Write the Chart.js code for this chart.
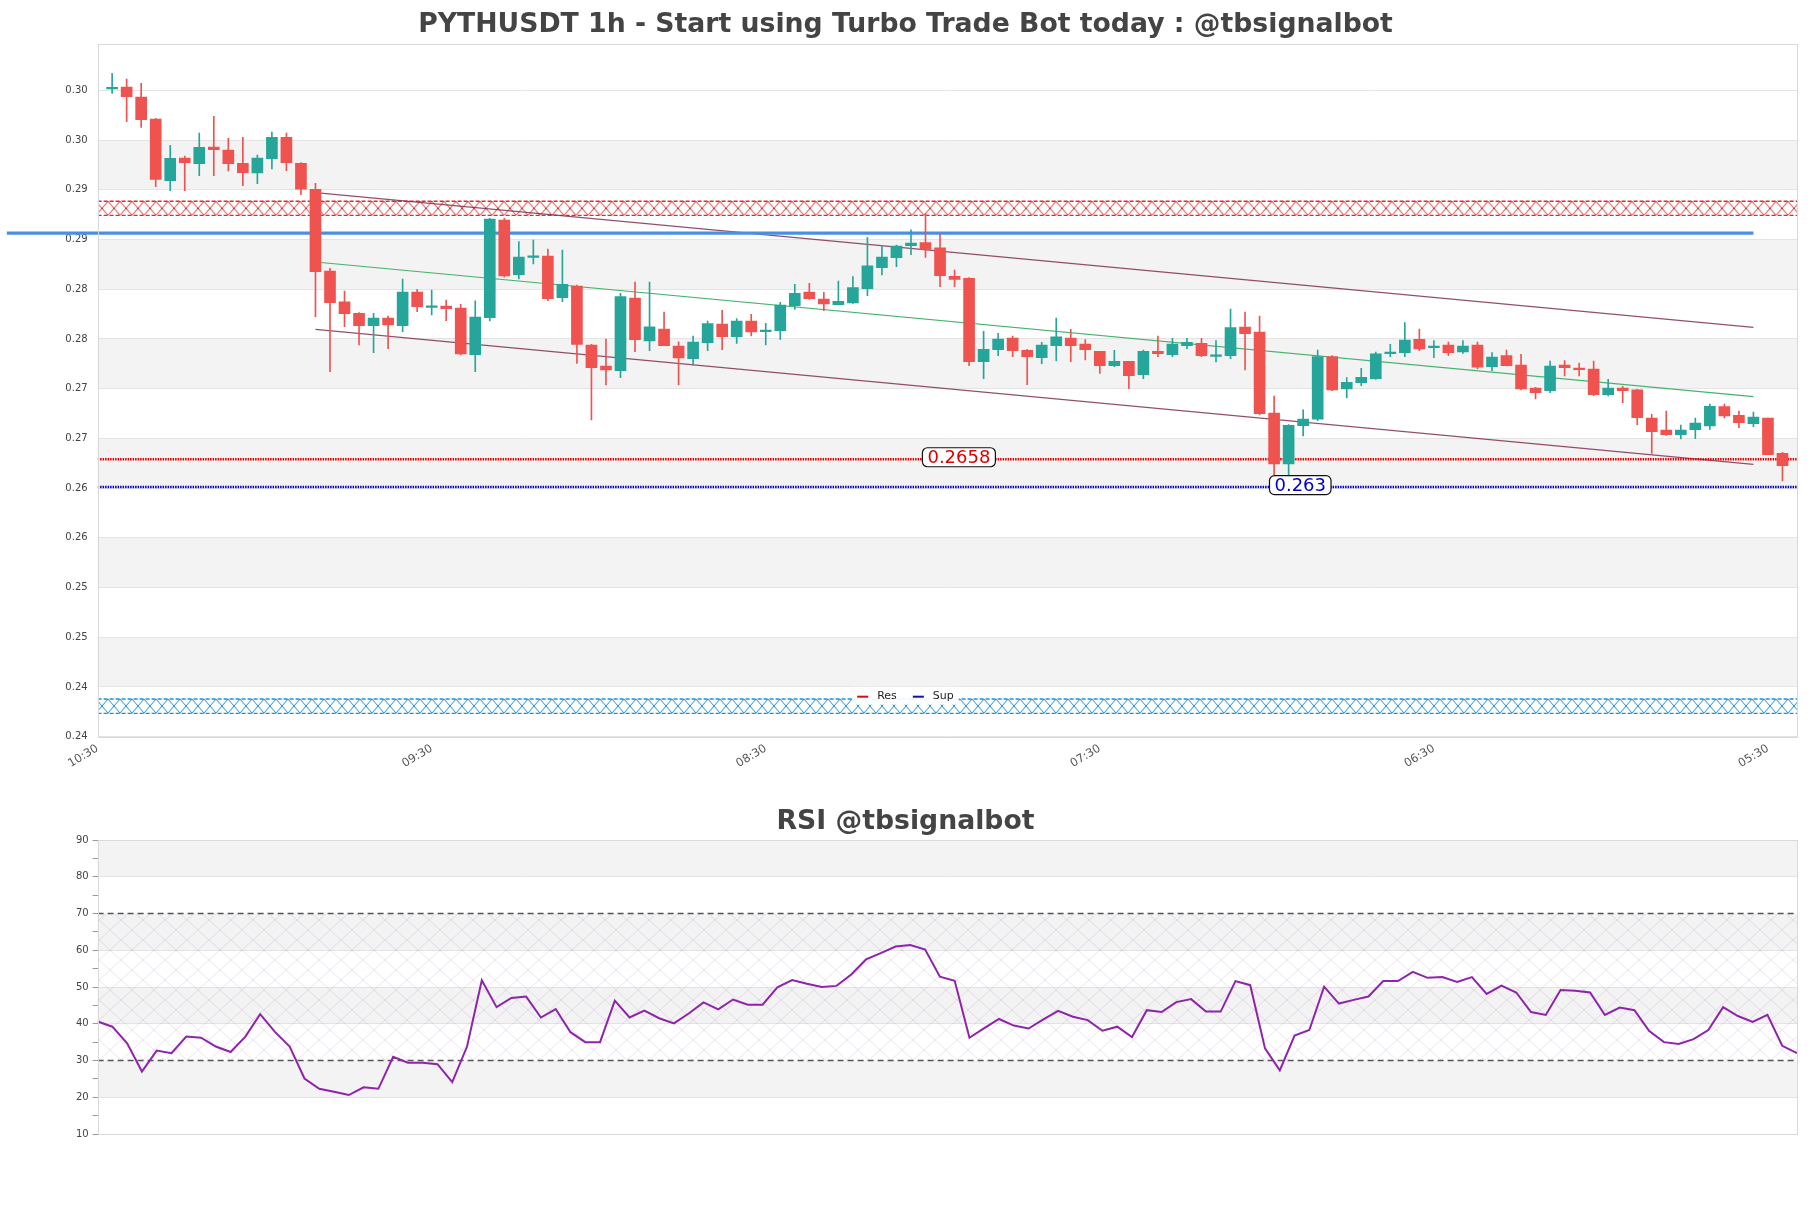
<!DOCTYPE html>
<html lang="en">
<head>
<meta charset="utf-8">
<title>PYTHUSDT 1h</title>
<script src="https://cdn.jsdelivr.net/npm/chart.js@4.4.1/dist/chart.umd.min.js"></script>
<style>
  html, body { margin: 0; padding: 0; background: #fff; }
  #wrap { position: relative; width: 1811px; height: 1208px; }
  .box { position: absolute; left: 0; width: 1811px; }
  #boxPrecio { top: 0; height: 790px; }
  #boxRsi { top: 790px; height: 418px; }
</style>
</head>
<body>
<div id="wrap">
  <div class="box" id="boxPrecio"><canvas id="chartPrecio"></canvas></div>
  <div class="box" id="boxRsi"><canvas id="chartRsi"></canvas></div>
</div>
<script>
// ==============================
// Datos
// ==============================
const timeLabels = ['10:30', '09:30', '08:30', '07:30', '06:30', '05:30'];
const timeTickPos = [-1, 22, 45, 68, 91, 114];

const opens = [0.30304, 0.30324, 0.30223, 0.30002, 0.29382, 0.29610, 0.29553, 0.29720, 0.29690, 0.29556,
  0.29459, 0.29603, 0.29817, 0.29556, 0.29295, 0.28473, 0.28162, 0.28048, 0.27924, 0.28001,
  0.27924, 0.28262, 0.28108, 0.28121, 0.28101, 0.27632, 0.28004, 0.28986, 0.28437, 0.28611,
  0.28624, 0.28205, 0.28322, 0.27729, 0.27518, 0.27471, 0.28202, 0.27769, 0.27890, 0.27719,
  0.27592, 0.27753, 0.27940, 0.27813, 0.27970, 0.27863, 0.27873, 0.28125, 0.28262, 0.28192,
  0.28135, 0.28151, 0.28296, 0.28507, 0.28607, 0.28728, 0.28758, 0.28705, 0.28420, 0.28400,
  0.27562, 0.27682, 0.27799, 0.27675, 0.27602, 0.27722, 0.27799, 0.27739, 0.27665, 0.27521,
  0.27565, 0.27431, 0.27665, 0.27632, 0.27722, 0.27746, 0.27615, 0.27622, 0.27910, 0.27860,
  0.27045, 0.26533, 0.26918, 0.26982, 0.27612, 0.27287, 0.27350, 0.27391, 0.27642, 0.27652,
  0.27786, 0.27702, 0.27729, 0.27659, 0.27729, 0.27511, 0.27622, 0.27528, 0.27297, 0.27270,
  0.27528, 0.27498, 0.27488, 0.27230, 0.27297, 0.27277, 0.26995, 0.26874, 0.26827, 0.26878,
  0.26915, 0.27109, 0.27022, 0.26938, 0.26995, 0.26640];
const highs = [0.30461, 0.30404, 0.30361, 0.30009, 0.29737, 0.29630, 0.29861, 0.30029, 0.29807, 0.29817,
  0.29640, 0.29871, 0.29861, 0.29563, 0.29355, 0.28500, 0.28272, 0.28054, 0.28048, 0.28021,
  0.28393, 0.28289, 0.28282, 0.28182, 0.28138, 0.28172, 0.29003, 0.29003, 0.28768, 0.28785,
  0.28694, 0.28684, 0.28332, 0.27736, 0.27789, 0.28249, 0.28363, 0.28363, 0.28061, 0.27762,
  0.27820, 0.27970, 0.28078, 0.27994, 0.28037, 0.27947, 0.28158, 0.28339, 0.28349, 0.28259,
  0.28373, 0.28416, 0.28812, 0.28728, 0.28735, 0.28886, 0.29053, 0.28845, 0.28483, 0.28406,
  0.27867, 0.27846, 0.27820, 0.27685, 0.27756, 0.28001, 0.27887, 0.27783, 0.27665, 0.27675,
  0.27565, 0.27679, 0.27820, 0.27796, 0.27796, 0.27796, 0.27773, 0.28091, 0.28061, 0.28021,
  0.27216, 0.26928, 0.27076, 0.27679, 0.27622, 0.27401, 0.27494, 0.27659, 0.27736, 0.27954,
  0.27890, 0.27773, 0.27759, 0.27773, 0.27759, 0.27652, 0.27679, 0.27635, 0.27303, 0.27568,
  0.27572, 0.27548, 0.27568, 0.27384, 0.27313, 0.27283, 0.27032, 0.27065, 0.26925, 0.26995,
  0.27136, 0.27136, 0.27065, 0.27055, 0.26995, 0.26650];
const lows = [0.30260, 0.29975, 0.29918, 0.29321, 0.29281, 0.29281, 0.29432, 0.29432, 0.29479, 0.29331,
  0.29352, 0.29499, 0.29482, 0.29241, 0.28014, 0.27461, 0.27913, 0.27729, 0.27652, 0.27692,
  0.27863, 0.28064, 0.28031, 0.27974, 0.27629, 0.27461, 0.27971, 0.28410, 0.28393, 0.28544,
  0.28175, 0.28165, 0.27545, 0.26975, 0.27327, 0.27401, 0.27662, 0.27672, 0.27722, 0.27327,
  0.27525, 0.27672, 0.27682, 0.27746, 0.27820, 0.27729, 0.27786, 0.28088, 0.28188, 0.28074,
  0.28131, 0.28148, 0.28225, 0.28433, 0.28517, 0.28638, 0.28611, 0.28316, 0.28316, 0.27521,
  0.27391, 0.27622, 0.27612, 0.27330, 0.27541, 0.27572, 0.27562, 0.27578, 0.27444, 0.27511,
  0.27290, 0.27391, 0.27612, 0.27612, 0.27692, 0.27612, 0.27558, 0.27592, 0.27478, 0.27025,
  0.26422, 0.26412, 0.26814, 0.26968, 0.27270, 0.27196, 0.27320, 0.27384, 0.27612, 0.27612,
  0.27672, 0.27602, 0.27622, 0.27645, 0.27488, 0.27471, 0.27518, 0.27277, 0.27186, 0.27250,
  0.27417, 0.27417, 0.27220, 0.27216, 0.27149, 0.26928, 0.26640, 0.26821, 0.26784, 0.26787,
  0.26881, 0.26995, 0.26898, 0.26908, 0.26626, 0.26361];
const closes = [0.30317, 0.30226, 0.29995, 0.29395, 0.29606, 0.29563, 0.29717, 0.29693, 0.29553, 0.29462,
  0.29610, 0.29817, 0.29563, 0.29295, 0.28467, 0.28155, 0.28044, 0.27924, 0.28001, 0.27930,
  0.28262, 0.28115, 0.28121, 0.28095, 0.27639, 0.28011, 0.28996, 0.28423, 0.28614, 0.28624,
  0.28195, 0.28339, 0.27736, 0.27501, 0.27478, 0.28215, 0.27783, 0.27913, 0.27722, 0.27598,
  0.27759, 0.27944, 0.27813, 0.27970, 0.27860, 0.27877, 0.28131, 0.28249, 0.28195, 0.28141,
  0.28168, 0.28306, 0.28524, 0.28614, 0.28725, 0.28755, 0.28691, 0.28426, 0.28389, 0.27562,
  0.27685, 0.27789, 0.27672, 0.27612, 0.27729, 0.27810, 0.27722, 0.27682, 0.27521, 0.27565,
  0.27421, 0.27665, 0.27642, 0.27739, 0.27756, 0.27622, 0.27628, 0.27903, 0.27843, 0.27039,
  0.26533, 0.26921, 0.26985, 0.27612, 0.27277, 0.27354, 0.27404, 0.27639, 0.27652, 0.27779,
  0.27689, 0.27716, 0.27652, 0.27719, 0.27505, 0.27608, 0.27521, 0.27287, 0.27250, 0.27518,
  0.27501, 0.27481, 0.27230, 0.27297, 0.27270, 0.26998, 0.26858, 0.26827, 0.26874, 0.26945,
  0.27112, 0.27015, 0.26948, 0.27005, 0.26626, 0.26516];

const priceTicks = [0.2379, 0.2429, 0.2479, 0.2529, 0.2579, 0.2629, 0.2679, 0.2729, 0.2779, 0.2829, 0.2879, 0.2929, 0.2979, 0.3029];
const priceTickLabels = ['0.24', '0.24', '0.25', '0.25', '0.26', '0.26', '0.27', '0.27', '0.28', '0.28', '0.29', '0.29', '0.30', '0.30'];

const resLevel = 0.2658;
const supLevel = 0.263;
const resZone = [0.29033, 0.29174];
const supZone = [0.24025, 0.24169];
const blueLevel = 0.28855;
const blueLineX = [-7.25, 113];
const channelX = [14, 113];
const channelUpper = [0.29261, 0.27907];
const channelMid = [0.28564, 0.27209];
const channelLower = [0.27887, 0.26529];

const rsiValues = [40.6, 39.2, 34.7, 27.0, 32.7, 32.0, 36.5, 36.2, 33.8, 32.3,
  36.5, 42.6, 37.8, 33.8, 25.1, 22.3, 21.5, 20.6, 22.7, 22.3,
  31.0, 29.4, 29.4, 29.0, 24.1, 33.8, 51.8, 44.5, 47.0, 47.4,
  41.7, 44.0, 37.7, 35.0, 35.0, 46.3, 41.7, 43.6, 41.5, 40.1,
  42.8, 45.8, 43.9, 46.6, 45.2, 45.2, 49.9, 51.9, 50.9, 50.0,
  50.3, 53.4, 57.5, 59.2, 61.0, 61.4, 60.2, 52.8, 51.7, 36.2,
  38.8, 41.3, 39.5, 38.7, 41.2, 43.5, 41.9, 41.0, 38.1, 39.2,
  36.4, 43.7, 43.2, 45.9, 46.7, 43.3, 43.3, 51.6, 50.5, 33.3,
  27.3, 36.8, 38.3, 50.1, 45.5, 46.5, 47.4, 51.6, 51.6, 54.1,
  52.5, 52.7, 51.4, 52.7, 48.1, 50.4, 48.5, 43.2, 42.4, 49.2,
  49.0, 48.5, 42.4, 44.4, 43.7, 38.0, 35.0, 34.5, 35.8, 38.3,
  44.5, 42.1, 40.5, 42.4, 34.0, 32.0];
const rsiBandTicks = [10, 20, 30, 40, 50, 60, 70, 80, 90];
const rsiUpper = 70;
const rsiLower = 30;

// ==============================
// Utilidades
// ==============================
const UP = '#26a69a';
const DOWN = '#ef5350';

Chart.defaults.font.family = "'DejaVu Sans', sans-serif";
Chart.defaults.color = '#444';

function makeCrossPattern(color, w, h, lw) {
  const c = document.createElement('canvas');
  c.width = w; c.height = h;
  const g = c.getContext('2d');
  g.strokeStyle = color;
  g.lineWidth = lw;
  g.beginPath();
  g.moveTo(0, 0); g.lineTo(w, h);
  g.moveTo(w, 0); g.lineTo(0, h);
  g.stroke();
  return g.createPattern(c, 'repeat');
}

// alinea el patron con el borde superior de la zona
function zoneFill(pattern, topValue) {
  return (ctx) => {
    const y = ctx.chart.scales && ctx.chart.scales.y;
    if (y && typeof y.getPixelForValue === 'function') {
      const py = y.getPixelForValue(topValue);
      if (isFinite(py)) pattern.setTransform(new DOMMatrix().translate(0, py));
    }
    return pattern;
  };
}

function hLine(y0, x0, x1) { return [{ x: x0, y: y0 }, { x: x1, y: y0 }]; }

// ==============================
// Plugins
// ==============================
const bandas = {
  id: 'bandas',
  beforeDraw(chart, args, opts) {
    const { ctx, chartArea: a, scales: { y } } = chart;
    const v = opts.values || [];
    ctx.save();
    ctx.fillStyle = opts.color || '#f3f3f3';
    for (let k = 1; k + 1 < v.length; k += 2) {
      const y1 = y.getPixelForValue(v[k + 1]);
      const y2 = y.getPixelForValue(v[k]);
      ctx.fillRect(a.left, y1, a.right - a.left, y2 - y1);
    }
    ctx.restore();
  }
};

const marco = {
  id: 'marco',
  afterDraw(chart) {
    const { ctx, chartArea: a } = chart;
    ctx.save();
    ctx.strokeStyle = '#d9d9d9';
    ctx.lineWidth = 1;
    ctx.strokeRect(Math.round(a.left) + 0.5, Math.round(a.top) + 0.5, Math.round(a.right - a.left), Math.round(a.bottom - a.top));
    ctx.restore();
  }
};

const etiquetasNivel = {
  id: 'etiquetasNivel',
  afterDatasetsDraw(chart, args, opts) {
    const { ctx, scales: { x, y } } = chart;
    ctx.save();
    ctx.font = "18px 'DejaVu Sans'";
    ctx.textAlign = 'center';
    ctx.textBaseline = 'middle';
    for (const it of opts.items || []) {
      const cx = x.getPixelForValue(it.at);
      const cy = y.getPixelForValue(it.value) - 2;
      const w = ctx.measureText(it.text).width + 10;
      const h = 19;
      ctx.beginPath();
      ctx.roundRect(cx - w / 2, cy - h / 2, w, h, 5);
      ctx.fillStyle = '#fff';
      ctx.fill();
      ctx.lineWidth = 1.2;
      ctx.strokeStyle = '#111';
      ctx.stroke();
      ctx.fillStyle = it.color;
      ctx.fillText(it.text, cx, cy + 1);
    }
    ctx.restore();
  }
};

const leyendaInterna = {
  id: 'leyendaInterna',
  afterDatasetsDraw(chart, args, opts) {
    const { ctx, chartArea: a } = chart;
    const items = opts.items || [];
    ctx.save();
    ctx.font = "11px 'DejaVu Sans'";
    const sw = 11, gap = 9, sep = 16, pad = 5, h = 18;
    let total = pad * 2;
    items.forEach((it, i) => { total += sw + gap + ctx.measureText(it.text).width + (i ? sep : 0); });
    const left = chart.width / 2 - total / 2;
    const top = a.bottom - 50;
    ctx.fillStyle = 'rgba(255,255,255,0.92)';
    ctx.fillRect(left, top, total, h);
    let cx = left + pad;
    const cy = top + h / 2 + 1;
    ctx.textBaseline = 'middle';
    items.forEach((it, i) => {
      if (i) cx += sep;
      ctx.fillStyle = it.color;
      ctx.fillRect(cx, cy - 1, sw, 2);
      cx += sw + gap;
      ctx.fillStyle = '#222';
      ctx.fillText(it.text, cx, cy - 1);
      cx += ctx.measureText(it.text).width;
    });
    ctx.restore();
  }
};

// ==============================
// Grafica de precio
// ==============================
const idx = opens.map((_, i) => i);
const candleColors = idx.map(i => closes[i] >= opens[i] ? UP : DOWN);
const bodyData = idx.map(i => ({ x: i, y: [opens[i], closes[i]] }));
const wickData = idx.map(i => ({ x: i, y: [lows[i], highs[i]] }));
const xMin = -1, xMax = idx.length;

const resPattern = makeCrossPattern('#e02828', 12, 14, 1);
const supPattern = makeCrossPattern('#1e8fd8', 12, 14, 1);
const rsiPattern = makeCrossPattern('rgba(165,120,185,0.3)', 22, 20, 0.7);

const lineBase = { type: 'line', pointRadius: 0, tension: 0, fill: false };

new Chart(document.getElementById('chartPrecio'), {
  type: 'bar',
  data: {
    datasets: [
      { label: 'body', data: bodyData, backgroundColor: candleColors, barThickness: 11, grouped: false, minBarLength: 1.5, borderWidth: 0, order: 0 },
      { label: 'wick', data: wickData, backgroundColor: candleColors, barThickness: 1, grouped: false, borderWidth: 0, order: 1 },
      { ...lineBase, label: 'Res', data: hLine(resLevel, xMin, xMax), borderColor: '#e00000', borderWidth: 2.5, borderDash: [1.5, 1], order: 3 },
      { ...lineBase, label: 'Sup', data: hLine(supLevel, xMin, xMax), borderColor: '#0000c8', borderWidth: 2.5, borderDash: [1.5, 1], order: 3 },
      { ...lineBase, label: 'nivel', data: hLine(blueLevel, blueLineX[0], blueLineX[1]), borderColor: '#4a90e2', borderWidth: 3.2, clip: false, order: 2 },
      { ...lineBase, label: 'canal sup', data: channelX.map((x, i) => ({ x, y: channelUpper[i] })), borderColor: 'rgba(128,48,80,0.85)', borderWidth: 1.2, order: 4 },
      { ...lineBase, label: 'canal med', data: channelX.map((x, i) => ({ x, y: channelMid[i] })), borderColor: '#45b36b', borderWidth: 1.2, order: 4 },
      { ...lineBase, label: 'canal inf', data: channelX.map((x, i) => ({ x, y: channelLower[i] })), borderColor: 'rgba(128,48,80,0.85)', borderWidth: 1.2, order: 4 },
      { ...lineBase, label: 'zona res', data: hLine(resZone[1], xMin, xMax), borderColor: '#e02828', borderWidth: 1.4, borderDash: [4, 2], fill: '+1', backgroundColor: zoneFill(resPattern, resZone[1]), order: 6 },
      { ...lineBase, label: 'zona res b', data: hLine(resZone[0], xMin, xMax), borderColor: '#e02828', borderWidth: 1.4, borderDash: [4, 2], order: 6 },
      { ...lineBase, label: 'zona sup', data: hLine(supZone[1], xMin, xMax), borderColor: '#1e8fd8', borderWidth: 1.4, borderDash: [4, 2], fill: '+1', backgroundColor: zoneFill(supPattern, supZone[1]), order: 6 },
      { ...lineBase, label: 'zona sup b', data: hLine(supZone[0], xMin, xMax), borderColor: '#1e8fd8', borderWidth: 1.4, borderDash: [4, 2], order: 6 }
    ]
  },
  options: {
    responsive: true,
    maintainAspectRatio: false,
    animation: false,
    devicePixelRatio: 1,
    events: [],
    layout: { padding: { left: 14, right: 14, top: 0, bottom: 0 } },
    plugins: {
      legend: { display: false },
      tooltip: { enabled: false },
      title: {
        display: true,
        text: 'PYTHUSDT 1h - Start using Turbo Trade Bot today : @tbsignalbot',
        color: '#444',
        font: { size: 26.7, weight: 'bold' },
        padding: { top: 9, bottom: 2.96 }
      },
      bandas: { values: priceTicks },
      etiquetasNivel: {
        items: [
          { value: resLevel, at: 58.3, text: String(resLevel), color: '#e00000' },
          { value: supLevel, at: 81.8, text: String(supLevel), color: '#0000c8' }
        ]
      },
      leyendaInterna: {
        items: [{ text: 'Res', color: '#cc1111' }, { text: 'Sup', color: '#1111aa' }]
      }
    },
    scales: {
      x: {
        type: 'linear',
        min: xMin,
        max: xMax,
        offset: false,
        grid: { display: false },
        border: { display: false },
        afterBuildTicks: (s) => { s.ticks = timeTickPos.map(v => ({ value: v })); },
        afterFit: (s) => { s.height = 53.3; },
        ticks: {
          autoSkip: false,
          minRotation: 31,
          maxRotation: 31,
          padding: -3,
          color: '#555',
          font: { size: 11.5 },
          callback: (v) => timeLabels[timeTickPos.indexOf(v)] ?? ''
        }
      },
      y: {
        type: 'linear',
        min: 0.2379,
        max: 0.30756,
        grid: { color: '#e4e4e4', drawTicks: false },
        border: { display: false },
        afterBuildTicks: (s) => { s.ticks = priceTicks.map(v => ({ value: v })); },
        afterFit: (s) => { s.width = 83.6; },
        ticks: {
          padding: 10,
          color: '#444',
          font: { size: 10 },
          callback: (v, i) => priceTickLabels[i]
        }
      }
    }
  },
  plugins: [bandas, marco, etiquetasNivel, leyendaInterna]
});

// ==============================
// Grafica RSI
// ==============================
const rsiLast = rsiValues.length - 1;

new Chart(document.getElementById('chartRsi'), {
  type: 'line',
  data: {
    datasets: [
      { ...lineBase, label: 'RSI', data: rsiValues.map((v, i) => ({ x: i, y: v })), borderColor: '#8e24aa', borderWidth: 2, order: 0 },
      { ...lineBase, label: '70', data: hLine(rsiUpper, 0, rsiLast), borderColor: '#555', borderWidth: 1.4, borderDash: [6, 4], fill: '+1', backgroundColor: rsiPattern, order: 1 },
      { ...lineBase, label: '30', data: hLine(rsiLower, 0, rsiLast), borderColor: '#555', borderWidth: 1.4, borderDash: [6, 4], order: 1 }
    ]
  },
  options: {
    responsive: true,
    maintainAspectRatio: false,
    animation: false,
    devicePixelRatio: 1,
    events: [],
    layout: { padding: { left: 14, right: 14, top: 0, bottom: 74 } },
    plugins: {
      legend: { display: false },
      tooltip: { enabled: false },
      title: {
        display: true,
        text: 'RSI @tbsignalbot',
        color: '#444',
        font: { size: 26.7, weight: 'bold' },
        padding: { top: 16, bottom: 1.96 }
      },
      bandas: { values: rsiBandTicks }
    },
    scales: {
      x: { type: 'linear', min: 0, max: rsiLast, display: false },
      y: {
        type: 'linear',
        min: 10,
        max: 90,
        border: { display: false },
        grid: {
          color: (c) => {
            const v = c.tick && c.tick.value;
            return (v % 10 === 0 && v !== rsiUpper && v !== rsiLower) ? '#e3e3e3' : 'rgba(0,0,0,0)';
          },
          tickColor: '#999',
          tickLength: 5
        },
        afterFit: (s) => { s.width = 83.6; },
        ticks: {
          stepSize: 5,
          padding: 4,
          color: '#444',
          font: { size: 10 },
          callback: (v) => (v % 10 === 0 ? String(v) : '')
        }
      }
    }
  },
  plugins: [bandas, marco]
});
</script>
</body>
</html>
